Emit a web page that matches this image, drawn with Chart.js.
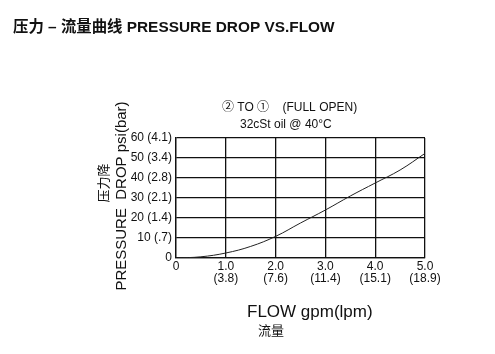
<!DOCTYPE html>
<html>
<head>
<meta charset="utf-8">
<script src="https://cdn.jsdelivr.net/npm/chart.js@4"></script>
<style>
  html, body { margin: 0; padding: 0; background: #fff; }
  canvas { display: block; }
</style>
</head>
<body>
<canvas id="flowChart" width="495" height="354"></canvas>
<script>
// flow in gpm, pressure drop in psi
var flowGpm = [0, 0.5, 1.0, 1.5, 2.0, 2.5, 3.0, 3.5, 4.0, 4.5, 5.0];
var dropPsi = [0, 0.6, 2.5, 5.8, 10.8, 17.5, 24, 31, 37.5, 44, 52.3];

var xTicks = ['0', '1.0', '2.0', '3.0', '4.0', '5.0'];
var xTicksLpm = ['', '(3.8)', '(7.6)', '(11.4)', '(15.1)', '(18.9)'];
var yTicks = ['0', '10 (.7)', '20 (1.4)', '30 (2.1)', '40 (2.8)', '50 (3.4)', '60 (4.1)'];

var fontFam = '"Liberation Sans", Arial, "Noto Sans CJK SC", sans-serif';
var cjkFam = '"Noto Sans CJK SC", sans-serif';

var points = [];
for (var i = 0; i < flowGpm.length; i++) {
    points.push({ x: flowGpm[i], y: dropPsi[i] });
}

// texts around the plot
var textPlugin = {
    id: 'texts',
    afterDraw: function (chart) {
        var ctx = chart.ctx;
        ctx.save();
        ctx.fillStyle = '#111';
        ctx.textBaseline = 'middle';

        ctx.textAlign = 'left';
        ctx.font = 'bold 15.4px ' + fontFam;
        ctx.fillText('压力 – 流量曲线 PRESSURE DROP VS.FLOW', 13, 28);

        ctx.font = '12px ' + fontFam;
        ctx.fillText('② TO ①    (FULL OPEN)', 222, 108);
        ctx.fillText('32cSt oil @ 40°C', 240, 125);

        ctx.font = '17px ' + fontFam;
        ctx.fillText('FLOW gpm(lpm)', 247, 312);
        ctx.font = '13px ' + cjkFam;
        ctx.fillText('流量', 258, 330);

        ctx.save();
        ctx.translate(122, 196);
        ctx.rotate(-Math.PI / 2);
        ctx.textAlign = 'center';
        ctx.font = '15px ' + fontFam;
        ctx.fillText('PRESSURE  DROP psi(bar)', 0, 0);
        ctx.restore();

        ctx.save();
        ctx.translate(103, 183);
        ctx.rotate(-Math.PI / 2);
        ctx.textAlign = 'center';
        ctx.font = '13px ' + cjkFam;
        ctx.fillText('压力降', 0, 0);
        ctx.restore();

        ctx.restore();
    }
};

var ctx = document.getElementById('flowChart').getContext('2d');
var flowChart = new Chart(ctx, {
    type: 'line',
    data: {
        datasets: [{
            data: points,
            borderColor: '#222',
            borderWidth: 1,
            pointRadius: 0,
            tension: 0.4,
            fill: false
        }]
    },
    options: {
        responsive: false,
        animation: false,
        events: [],
        layout: { padding: { left: 0, top: 138, right: 70, bottom: 0 } },
        plugins: { legend: { display: false }, tooltip: { enabled: false } },
        scales: {
            x: {
                type: 'linear',
                min: 0,
                max: 5,
                afterFit: function (scale) { scale.height = 96; },
                afterBuildTicks: function (scale) {
                    scale.ticks = xTicks.map(function (t) { return { value: parseFloat(t) }; });
                },
                ticks: {
                    color: '#111',
                    font: { family: fontFam, size: 12, lineHeight: 1.0 },
                    padding: 3,
                    maxRotation: 0,
                    callback: function (value, index) {
                        if (!xTicksLpm[index]) return xTicks[index];
                        return [xTicks[index], xTicksLpm[index]];
                    }
                },
                grid: { color: '#111', lineWidth: 1.3, drawTicks: false },
                border: { color: '#111', width: 1.3 }
            },
            y: {
                min: 0,
                max: 60,
                afterFit: function (scale) { scale.width = 176; },
                ticks: {
                    stepSize: 10,
                    color: '#111',
                    font: { family: fontFam, size: 12 },
                    padding: 4,
                    callback: function (value) { return yTicks[value / 10]; }
                },
                grid: { color: '#111', lineWidth: 1.3, drawTicks: false },
                border: { color: '#111', width: 1.3 }
            }
        }
    },
    plugins: [textPlugin]
});
</script>
</body>
</html>
